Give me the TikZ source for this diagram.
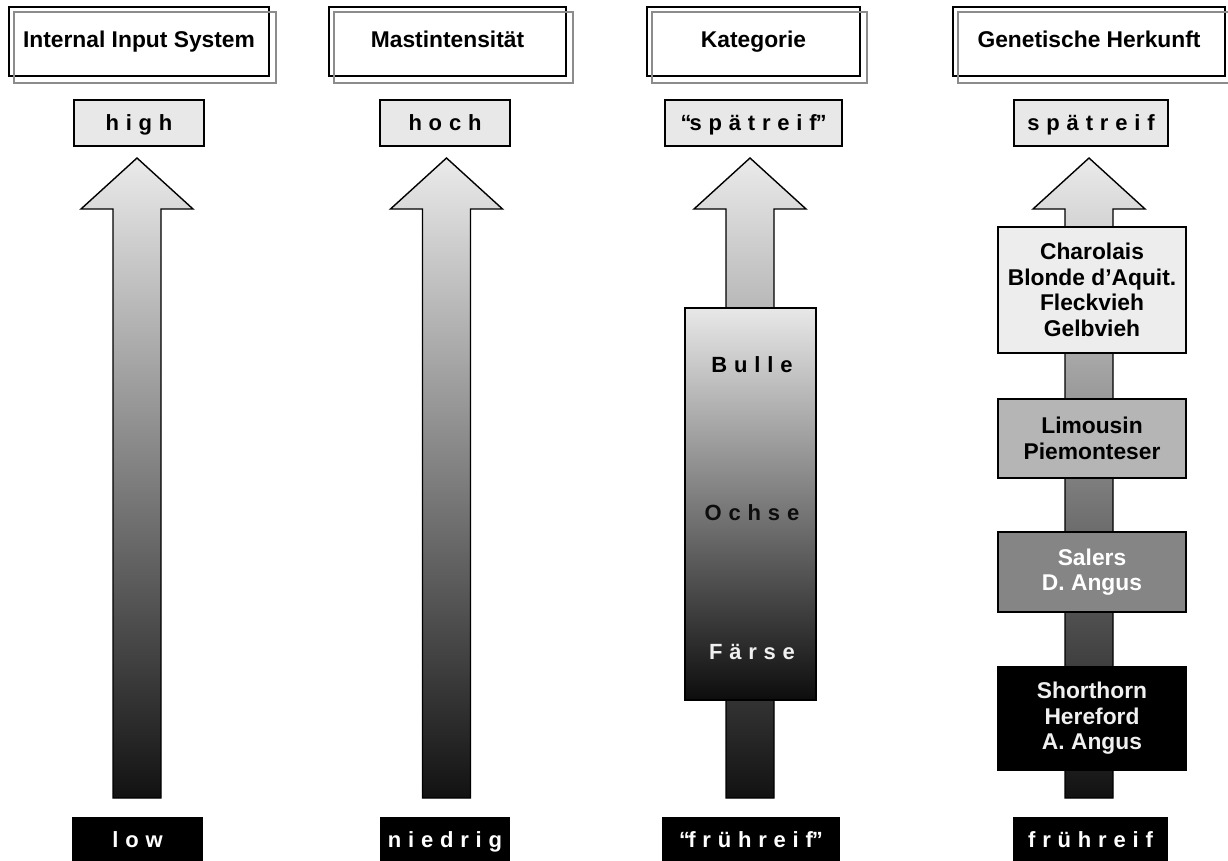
\documentclass[tikz,border=0pt]{standalone}
\usepackage{fontspec}
\setmainfont{Liberation Sans}
\newfontfamily\spacedfont[LetterSpace=31]{Liberation Sans}
\usetikzlibrary{calc}
\tikzset{
  hdr/.style={draw=black, line width=2.2pt, minimum height=69pt, inner sep=0pt,
    text height=16.5pt, text depth=4.5pt,
    font=\bfseries\fontsize{22.8}{26}\selectfont},
  hdrshadow/.style={draw=black!45, line width=2pt},
  toplbl/.style={draw=black, line width=1.4pt, fill=black!9, minimum height=46pt, inner sep=0pt,
    text height=17pt, text depth=2pt,
    font=\spacedfont\bfseries\fontsize{22}{26}\selectfont},
  botlbl/.style={fill=black, text=white, minimum height=46pt, inner sep=0pt,
    text height=17pt, text depth=2pt,
    font=\spacedfont\bfseries\fontsize{22}{26}\selectfont},
  arrowline/.style={draw=black, line width=1.4pt, top color=black!8, bottom color=black!93},
  breed/.style={draw=black, line width=1.5pt, minimum width=188pt, align=center, inner sep=0pt,
    font=\bfseries\fontsize{22.8}{25.6}\selectfont},
  cattext/.style={font=\spacedfont\bfseries\fontsize{22}{26}\selectfont, inner sep=0pt,
    text height=17pt, text depth=2pt},
}
\newcommand\colarrow[1]{%
  \path[arrowline] (#1,158) -- (#1+56,209) -- (#1+24,209) -- (#1+24,798)
    -- (#1-24,798) -- (#1-24,209) -- (#1-56,209) -- cycle;}
\begin{document}
\begin{tikzpicture}[x=1pt,y=-1pt]
\useasboundingbox (0,0) rectangle (1228,861);
\fill[white] (0,0) rectangle (1228,861);

% headers
\node[hdr, minimum width=260pt] (h1) at (139,41.5) {Internal Input System};
\node[hdr, minimum width=237pt] (h2) at (447.5,41.5) {Mastintensität};
\node[hdr, minimum width=213pt] (h3) at (753.5,41.5) {Kategorie};
\node[hdr, minimum width=272pt] (h4) at (1089,41.5) {Genetische Herkunft};
\foreach \h in {h1,h2,h3,h4}{
  \draw[hdrshadow] ($(\h.south west)+(6,6)$) rectangle ($(\h.north east)+(6,6)$);
}

% arrows
\colarrow{137}
\colarrow{446.5}
\colarrow{750}
\colarrow{1089}

% top labels
\node[toplbl, minimum width=130pt] (t1) at (139,123) {high};
\node[toplbl, minimum width=130pt] (t2) at (445,123) {hoch};
\node[toplbl, minimum width=177pt] (t3) at (753.5,123) {“\kern-2pt spätreif\kern-1.2pt ”};
\node[toplbl, minimum width=154pt] (t4) at (1091,123) {spätreif};

% bottom labels
\node[botlbl, minimum width=131pt] (b1) at (137.5,840) {low};
\node[botlbl, minimum width=130pt] (b2) at (445,840) {niedrig};
\node[botlbl, minimum width=178pt] (b3) at (751,840) {“\kern-2pt frühreif\kern-1.2pt ”};
\node[botlbl, minimum width=155pt] (b4) at (1090.5,840) {frühreif};

% category box
\node[draw=black, line width=1.4pt, top color=black!9, bottom color=black!95,
  minimum width=131pt, minimum height=392pt, inner sep=0pt] (cat) at (750.5,504) {};
\node[cattext, text=black] (bulle) at (752,365) {Bulle};
\node[cattext, text=black!95] (ochse) at (752,513) {Ochse};
\node[cattext, text=black!6] (faerse) at (752,652) {Färse};

% breeds
\node[breed, fill=black!7, minimum height=126pt] (g1) at (1092,290)
  {Charolais\\Blonde d’Aquit.\\Fleckvieh\\Gelbvieh};
\node[breed, fill=black!29, minimum height=79pt] (g2) at (1092,438.5)
  {Limousin\\Piemonteser};
\node[breed, fill=black!48, text=white, minimum height=80pt] (g3) at (1092,572)
  {Salers\\D. Angus};
\node[breed, fill=black, text=black!6, minimum height=103pt] (g4) at (1092,718.5)
  {Shorthorn\\Hereford\\A. Angus};
\end{tikzpicture}
\end{document}
